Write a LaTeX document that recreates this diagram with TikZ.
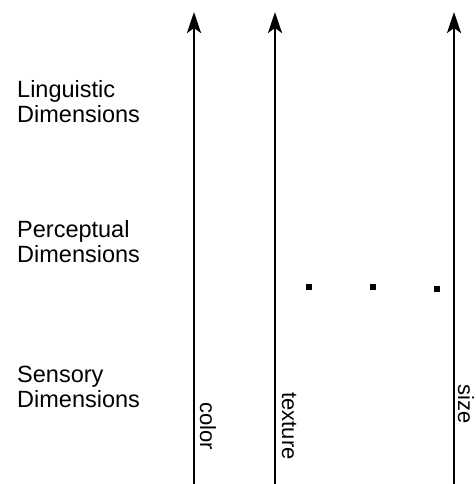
\documentclass[tikz,border=0pt]{standalone}
\usepackage{fontspec}
\setmainfont{Liberation Sans}
\usetikzlibrary{arrows.meta, positioning}
\tikzset{
    x=1pt, y=1pt,
    axis/.style={line width=2.7pt, -{Stealth[length=21pt, width=14pt, inset=5pt]}},
    level/.style={align=left, anchor=base west, inner sep=0pt, font=\fontsize{23.5}{25}\selectfont},
    axislabel/.style={rotate=-90, anchor=base, inner sep=0pt, font=\fontsize{22}{25}\selectfont},
    dot/.style={fill=black, minimum size=6pt, inner sep=0pt},
}
\begin{document}
\begin{tikzpicture}
        \useasboundingbox (0,0) rectangle (475,484);

        % base anchor sits on the second line
        \node[level] (linguistic) at (17,361) {Linguistic\\Dimensions};
        \node[level] (perceptual) at (17,221) {Perceptual\\Dimensions};
        \node[level] (sensory) at (17,76) {Sensory\\Dimensions};

        \coordinate (colorlow) at (194,0);
        \coordinate (colorhigh) at (194,472);
        \coordinate (texturelow) at (275,0);
        \coordinate (texturehigh) at (275,472);
        \coordinate (sizelow) at (454,0);
        \coordinate (sizehigh) at (454,472);

        \node[axislabel] (color) at (200,58) {color};
        \node[axislabel] (texture) at (282,58) {texture};
        \node[axislabel] (size) at (458,80) {size};

        \node[dot] (dotA) at (309,197) {};
        \node[dot] (dotB) at (373,197) {};
        \node[dot] (dotC) at (437,195) {};

        \draw[axis] (colorlow) -- (colorhigh);
        \draw[axis] (texturelow) -- (texturehigh);
        \draw[axis] (sizelow) -- (sizehigh);
\end{tikzpicture}
\end{document}
